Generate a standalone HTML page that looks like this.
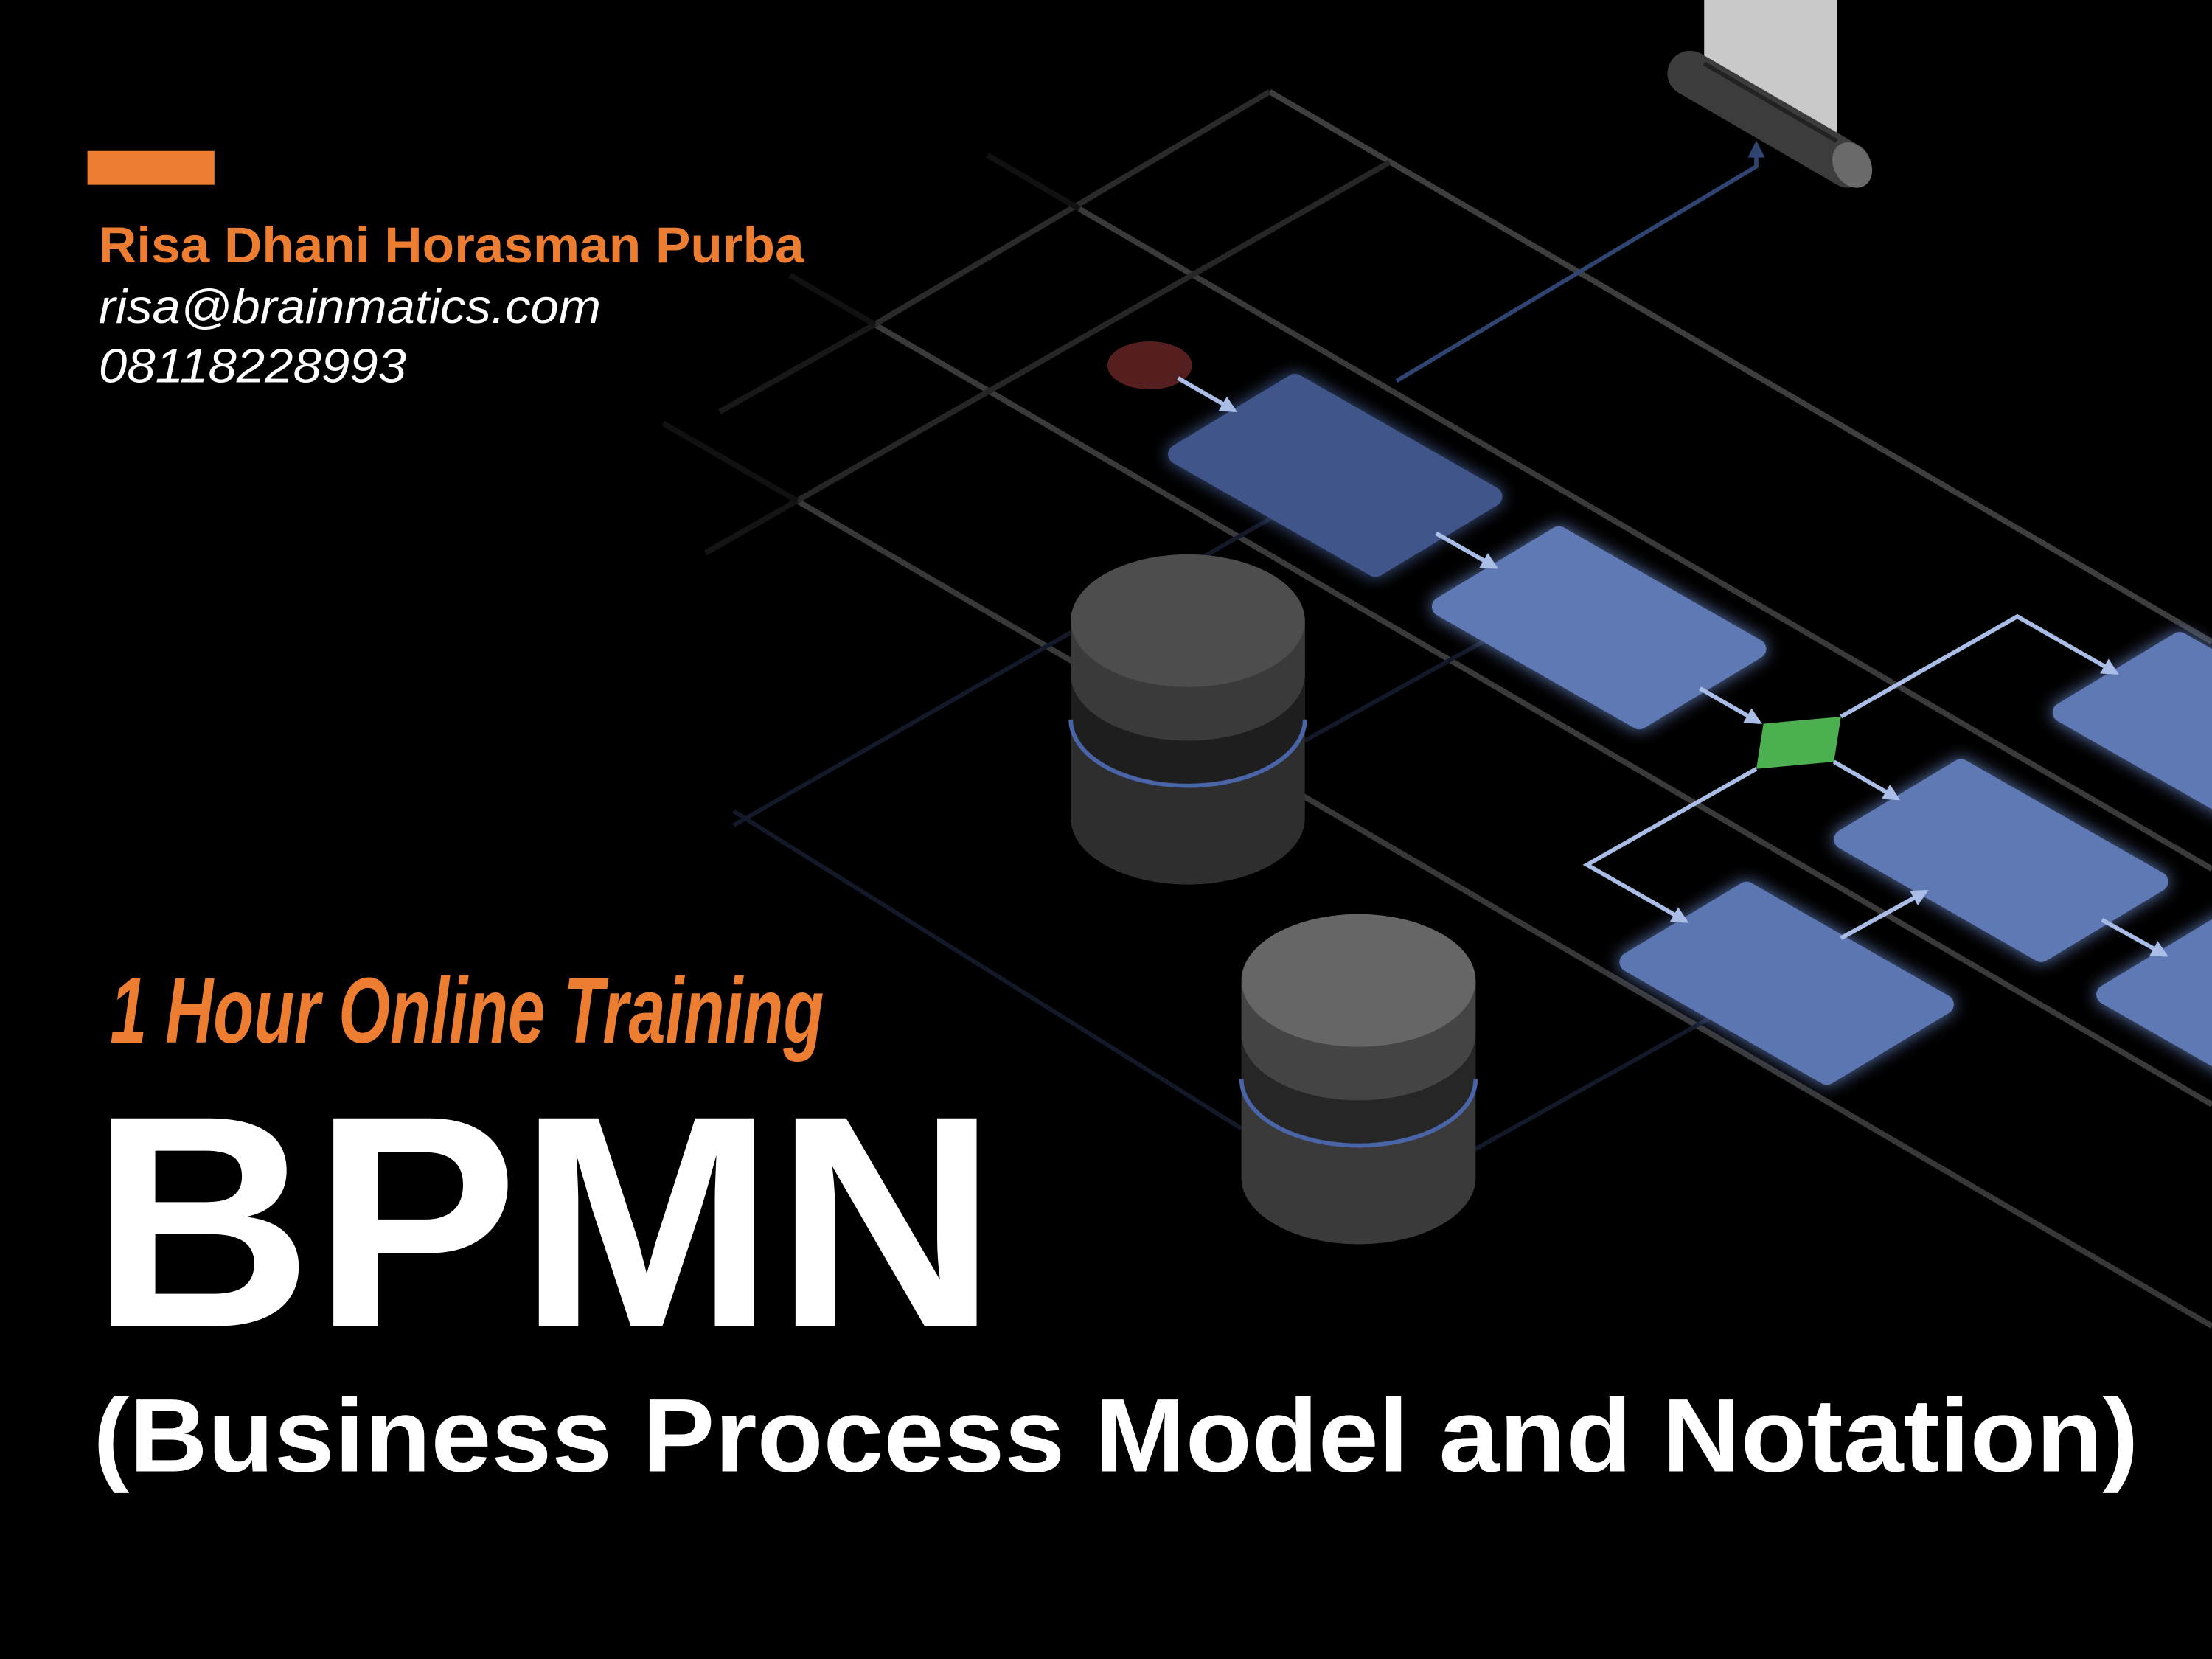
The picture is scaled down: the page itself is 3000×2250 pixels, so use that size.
<!DOCTYPE html>
<html><head><meta charset="utf-8"><style>
html,body{margin:0;padding:0;background:#000;}
svg{display:block;}
</style></head><body>
<svg width="3000" height="2250" viewBox="0 0 1568 1176" preserveAspectRatio="none" xmlns="http://www.w3.org/2000/svg">
<defs>
<linearGradient id="fadeL" x1="0" y1="0" x2="1" y2="0">
<stop offset="0" stop-color="#3a3a3a" stop-opacity="0"/>
<stop offset="0.35" stop-color="#2a2a2a" stop-opacity="0.8"/>
<stop offset="1" stop-color="#4a4a4a"/>
</linearGradient>
<filter id="glow" x="-30%" y="-30%" width="160%" height="160%">
<feGaussianBlur stdDeviation="6" result="b"/>
<feMerge><feMergeNode in="b"/><feMergeNode in="SourceGraphic"/></feMerge>
</filter>
<marker id="ar" viewBox="0 0 10 10" refX="8" refY="5" markerWidth="4" markerHeight="4" orient="auto">
<path d="M0,0 L10,5 L0,10 z" fill="#a9bde6"/>
</marker>
<marker id="ar2" viewBox="0 0 10 10" refX="8" refY="5" markerWidth="4" markerHeight="4" orient="auto">
<path d="M0,0 L10,5 L0,10 z" fill="#2f4470"/>
</marker>
</defs>
<rect width="1568" height="1176" fill="#000"/>

<!-- grid lines -->
<g stroke="url(#fadeL)" stroke-width="4" fill="none" gradientUnits="userSpaceOnUse">
<line x1="900" y1="65" x2="1568" y2="455" stroke="#3e3e3e"/>
<line x1="765" y1="148" x2="1568" y2="616" stroke="#3a3a3a"/>
<line x1="620" y1="230" x2="1568" y2="783" stroke="#3a3a3a"/>
<line x1="565" y1="355" x2="1568" y2="940" stroke="#383838"/>
</g>
<g stroke-width="4" fill="none">
<line x1="900" y1="65" x2="620" y2="230" stroke="#2a2a2a"/>
<line x1="620" y1="230" x2="510" y2="292" stroke="#181818"/>
<line x1="985" y1="115" x2="565" y2="355" stroke="#262626"/>
<line x1="565" y1="355" x2="500" y2="392" stroke="#141414"/>
<line x1="565" y1="355" x2="470" y2="300" stroke="#111"/>
<line x1="620" y1="230" x2="560" y2="195" stroke="#111"/>
<line x1="765" y1="148" x2="700" y2="110" stroke="#111"/>
</g>
<!-- faint connectors -->
<g stroke="#14192a" stroke-width="3" fill="none">
<line x1="905" y1="365" x2="520" y2="585"/>
<line x1="520" y1="575" x2="880" y2="800"/>
<line x1="925" y1="525" x2="1060" y2="450"/>
<line x1="1045" y1="815" x2="1215" y2="720"/>
</g>

<!-- dark blue connector to roller -->
<polyline points="990,270 1245,118 1245,102" stroke="#2f4470" stroke-width="3" fill="none" marker-end="url(#ar2)"/>

<!-- roller -->
<polygon points="1208,0 1302,0 1302,100 1208,45" fill="#c9c9c9"/>
<line x1="1198" y1="52" x2="1310" y2="117" stroke="#3c3c3c" stroke-width="32" stroke-linecap="round"/>
<line x1="1208" y1="45" x2="1302" y2="100" stroke="#222" stroke-width="3"/>
<ellipse cx="1313" cy="117" rx="13" ry="17" fill="#6a6a6a" transform="rotate(-30 1313 117)"/>

<!-- start event -->
<ellipse cx="815" cy="259" rx="30" ry="17" fill="#561f1f"/>

<!-- boxes -->
<g filter="url(#glow)" stroke-linejoin="round">
<polygon points="835,322 918,272 1058,352 975,402" fill="#41568a" stroke="#41568a" stroke-width="14"/>
<polygon points="1022,430 1105,380 1245,460 1162,510" fill="#5e79b4" stroke="#5e79b4" stroke-width="14"/>
<polygon points="1307,595 1390,545 1530,625 1447,675" fill="#5e79b4" stroke="#5e79b4" stroke-width="14"/>
<polygon points="1155,682 1238,632 1378,712 1295,762" fill="#5b76b2" stroke="#5b76b2" stroke-width="14"/>
<polygon points="1462,505 1545,455 1685,535 1602,585" fill="#5e79b4" stroke="#5e79b4" stroke-width="14"/>
<polygon points="1493,705 1576,655 1716,735 1633,785" fill="#5e79b4" stroke="#5e79b4" stroke-width="14"/>
</g>
<!-- gateway -->
<polygon points="1250,513 1305,508 1300,540 1245,545" fill="#4caf50"/>

<!-- arrows -->
<g stroke="#a9bde6" stroke-width="3" fill="none" marker-end="url(#ar)">
<line x1="835" y1="268" x2="875" y2="291"/>
<line x1="1018" y1="378" x2="1060" y2="402"/>
<line x1="1205" y1="488" x2="1247" y2="512"/>
<polyline points="1305,508 1430,437 1500,477"/>
<line x1="1300" y1="540" x2="1345" y2="566"/>
<polyline points="1245,545 1125,613 1195,653"/>
<line x1="1305" y1="665" x2="1365" y2="632"/>
<line x1="1490" y1="652" x2="1535" y2="677"/>
</g>

<!-- DB1 -->
<g>
<path d="M759,440 L759,580 A83,47 0 0 0 925,580 L925,440 Z" fill="#2e2e2e"/>
<path d="M759,440 L759,510 A83,47 0 0 0 925,510 L925,440 Z" fill="#1e1e1e"/>
<path d="M759,440 L759,478 A83,47 0 0 0 925,478 L925,440 Z" fill="#3a3a3a"/>
<path d="M759,510 A83,47 0 0 0 925,510" fill="none" stroke="#4a64a8" stroke-width="3"/>
<ellipse cx="842" cy="440" rx="83" ry="47" fill="#4d4d4d"/>
</g>
<!-- DB2 -->
<g>
<path d="M880,695 L880,835 A83,47 0 0 0 1046,835 L1046,695 Z" fill="#3a3a3a"/>
<path d="M880,695 L880,765 A83,47 0 0 0 1046,765 L1046,695 Z" fill="#262626"/>
<path d="M880,695 L880,733 A83,47 0 0 0 1046,733 L1046,695 Z" fill="#444"/>
<path d="M880,765 A83,47 0 0 0 1046,765" fill="none" stroke="#4a64a8" stroke-width="3"/>
<ellipse cx="963" cy="695" rx="83" ry="47" fill="#666"/>
</g>

<!-- header text -->
<rect x="62" y="107" width="90" height="24" fill="#ed7d31"/>
<text x="70" y="186" font-family="Liberation Sans, sans-serif" font-weight="bold" font-size="36" fill="#ed7d31" textLength="500" lengthAdjust="spacingAndGlyphs">Risa Dhani Horasman Purba</text>
<text x="70" y="229" font-family="Liberation Sans, sans-serif" font-style="italic" font-size="34" fill="#fff" textLength="356" lengthAdjust="spacingAndGlyphs">risa@brainmatics.com</text>
<text x="70" y="271" font-family="Liberation Sans, sans-serif" font-style="italic" font-size="34" fill="#fff" textLength="218" lengthAdjust="spacingAndGlyphs">08118228993</text>

<text x="78" y="739" font-family="Liberation Sans Narrow, Liberation Sans, sans-serif" font-style="italic" font-weight="bold" font-size="66" fill="#ed7d31" textLength="506" lengthAdjust="spacingAndGlyphs">1 Hour Online Training</text>
<text x="64" y="940" font-family="Liberation Sans, sans-serif" font-weight="bold" font-size="214" fill="#fff" textLength="643" lengthAdjust="spacingAndGlyphs">BPMN</text>
<text x="66" y="1043" font-family="Liberation Sans, sans-serif" font-weight="bold" font-size="74" fill="#fff" textLength="1450" lengthAdjust="spacingAndGlyphs">(Business Process Model and Notation)</text>
</svg>
</body></html>
